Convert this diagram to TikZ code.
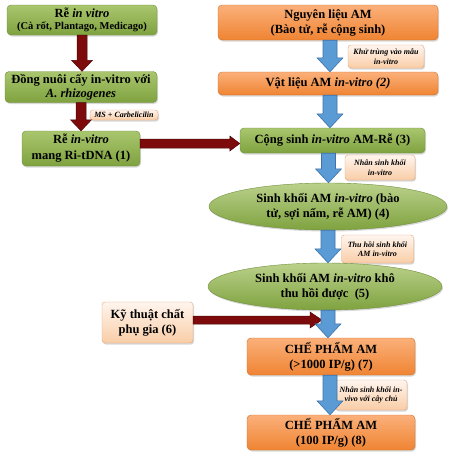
\documentclass[tikz,border=0pt]{standalone}
\usepackage{fontspec}
\setmainfont{Liberation Serif}
\usetikzlibrary{shapes.geometric,shadows,calc}
\definecolor{gtop}{HTML}{A9C66E}
\definecolor{gbot}{HTML}{7FA23F}
\definecolor{gborder}{HTML}{6F8F3A}
\definecolor{otop}{HTML}{FBB07A}
\definecolor{obot}{HTML}{EF8433}
\definecolor{oborder}{HTML}{D06E25}
\definecolor{ltop}{HTML}{FFF5EE}
\definecolor{lbot}{HTML}{F9CDA6}
\definecolor{lborder}{HTML}{E3A577}
\definecolor{darkred}{HTML}{7E0B0B}
\definecolor{bluefill}{HTML}{5B9BD5}
\definecolor{blueedge}{HTML}{3F72A8}
\begin{document}
\begin{tikzpicture}[x=1pt,y=1pt,
  shd/.style={drop shadow={shadow xshift=1pt,shadow yshift=-1.5pt,opacity=0.3}},
  gbox/.style={draw=gborder,top color=gtop,bottom color=gbot,rounded corners=4pt,
    align=center,font=\bfseries\fontsize{12.5}{14}\selectfont,inner sep=1pt,shd},
  obox/.style={draw=oborder,top color=otop,bottom color=obot,rounded corners=4pt,
    align=center,font=\bfseries\fontsize{12.5}{15}\selectfont,inner sep=1pt,shd},
  gell/.style={ellipse,draw=gborder,top color=gtop!80!white,bottom color=gbot,
    align=center,font=\bfseries\fontsize{12.5}{15}\selectfont,inner sep=0pt,shd},
  lbl/.style={draw=lborder,top color=ltop,bottom color=lbot,rounded corners=3pt,
    align=center,font=\bfseries\itshape\fontsize{8}{9.5}\selectfont,inner sep=1pt,shd},
  redarr/.style={fill=darkred,draw=darkred!60!black,line width=0.5pt},
  bluearr/.style={fill=bluefill,draw=blueedge,line width=0.6pt},
  vblk/.style n args={3}{to path={let \p1=(\tikztostart),\p2=(\tikztotarget) in
    (\x1-#1,\y1) -- (\x1-#1,\y2+#3) -- (\x1-#2,\y2+#3) -- (\x1,\y2)
    -- (\x1+#2,\y2+#3) -- (\x1+#1,\y2+#3) -- (\x1+#1,\y1) -- cycle}},
  hblk/.style n args={3}{to path={let \p1=(\tikztostart),\p2=(\tikztotarget) in
    (\x1,\y1-#1) -- (\x2-#3,\y1-#1) -- (\x2-#3,\y1-#2) -- (\x2,\y1)
    -- (\x2-#3,\y1+#2) -- (\x2-#3,\y1+#1) -- (\x1,\y1+#1) -- cycle}}
]
\useasboundingbox[fill=white] (0,0) rectangle (450,-456);

% left column
\node[gbox,minimum width=150pt,minimum height=30pt] (r0) at (82,-20)
  {Rễ \textit{in vitro}\\[-1.5pt]{\fontsize{10.5}{12}\selectfont (Cà rốt, Plantago, Medicago)}};
\node[gbox,minimum width=152pt,minimum height=31pt] (r1) at (81,-87)
  {Đồng nuôi cấy in-vitro với\\\textit{A. rhizogenes}};
\node[gbox,minimum width=118pt,minimum height=35pt,font=\bfseries\fontsize{12.5}{16}\selectfont] (r2) at (81,-148.5)
  {Rễ \textit{in-vitro}\\mang Ri-tDNA (1)};
\node[lbl,minimum width=68pt,minimum height=10pt] (l1) at (124,-115) {MS + Carbelicilin};

% right column
\node[obox,minimum width=220pt,minimum height=35pt] (o1) at (328,-22.5)
  {Nguyên liệu AM\\(Bào tử, rễ cộng sinh)};
\node[lbl,minimum width=76pt,minimum height=23pt] (l2) at (386,-56.5)
  {Khử trùng vào mẫu\\in-vitro};
\node[obox,minimum width=220pt,minimum height=23pt] (o2) at (328,-83.5)
  {Vật liệu AM \textit{in-vitro (2)}};
\node[gbox,minimum width=185pt,minimum height=25pt] (c3) at (332.5,-140.5)
  {Cộng sinh \textit{in-vitro} AM-Rễ (3)};
\node[lbl,minimum width=70pt,minimum height=25pt] (l3) at (380,-167.5)
  {Nhân sinh khối\\in-vitro};
\node[gell,minimum width=238pt,minimum height=47pt] (e4) at (328,-206.5)
  {Sinh khối AM \textit{in-vitro} (bào\\tử, sợi nấm, rễ AM) (4)};
\node[lbl,minimum width=72pt,minimum height=28pt] (l4) at (377.5,-249)
  {Thu hồi sinh khối\\AM in-vitro};
\node[gell,minimum width=234pt,minimum height=47pt] (e5) at (325,-286.5)
  {Sinh khối AM \textit{in-vitro} khô\\thu hồi được~~(5)};
\node[lbl,minimum width=91pt,minimum height=41pt,font=\bfseries\fontsize{12.5}{15}\selectfont] (n6) at (147.5,-322.5)
  {Kỹ thuật chất\\phụ gia (6)};
\node[obox,minimum width=168pt,minimum height=37pt] (o7) at (331,-356.5)
  {CHẾ PHẨM AM\\(>1000 IP/g) (7)};
\node[lbl,minimum width=72pt,minimum height=30pt] (l5) at (371,-395)
  {Nhân sinh khối in-\\vivo với cây chủ};
\node[obox,minimum width=168pt,minimum height=35pt] (o8) at (331,-432.5)
  {CHẾ PHẨM AM\\(100 IP/g) (8)};

\coordinate (t6) at (322,-320);

% red arrows
\draw[redarr,vblk={5pt}{10.5pt}{11pt}] (r0.south) to (r1.north);
\draw[redarr,vblk={5pt}{10.5pt}{11pt}] (r1.south) to (r2.north);
\draw[redarr,hblk={4.5pt}{7.5pt}{10pt}] ([yshift=5pt]r2.east) to (c3.west);
\draw[redarr,hblk={4pt}{8pt}{12pt}] ([yshift=2.5pt]n6.east) to (t6);

% blue arrows
\draw[bluearr,vblk={7pt}{13pt}{14pt}] ([xshift=2pt]o1.south) to (o2.north);
\draw[bluearr,vblk={7pt}{13pt}{14pt}] ([xshift=2pt]o2.south) to (c3.north);
\draw[bluearr,vblk={7pt}{13pt}{14pt}] ([xshift=-4pt]c3.south) to (e4.north);
\draw[bluearr,vblk={7pt}{13pt}{14pt}] ([xshift=0pt]e4.south) to (e5.north);
\draw[bluearr,vblk={7pt}{13pt}{14pt}] ([xshift=3pt]e5.south) to (o7.north);
\draw[bluearr,vblk={7pt}{13pt}{14pt}] ([xshift=-1pt]o7.south) to (o8.north);
\end{tikzpicture}
\end{document}
